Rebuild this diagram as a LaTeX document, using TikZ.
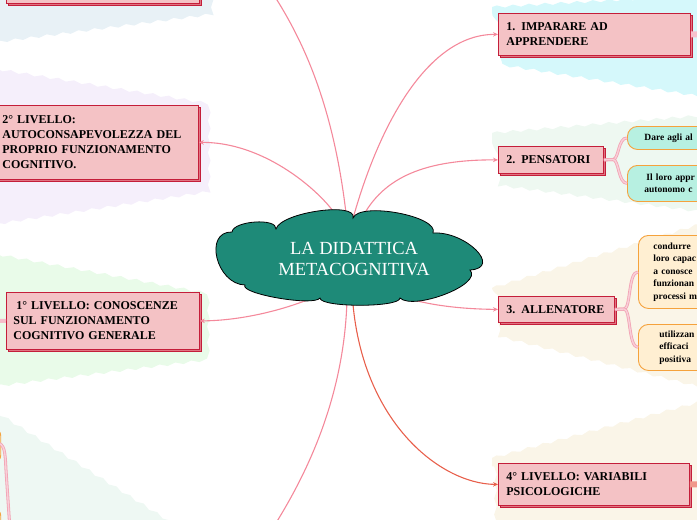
\documentclass[tikz,border=0pt]{standalone}
\usepackage{fontspec}
\setmainfont{Liberation Serif}
\usetikzlibrary{shadows,decorations.pathmorphing,arrows.meta}
\definecolor{boxfill}{HTML}{F4C2C5}
\definecolor{boxline}{HTML}{C41E3A}
\definecolor{shadowfill}{HTML}{E07482}
\definecolor{teal1}{HTML}{1E8A78}
\definecolor{linepink}{HTML}{F4899B}
\definecolor{linered}{HTML}{E8604C}
\definecolor{brpink}{HTML}{F2A3B4}
\definecolor{brlight}{HTML}{F9CFD8}
\definecolor{orangeb}{HTML}{F5A23C}
\definecolor{mintfill}{HTML}{B7F0E1}
\definecolor{beigefill}{HTML}{FFEFD2}
\definecolor{bandA}{HTML}{E8F1F6}
\definecolor{bandB}{HTML}{F5EFFB}
\definecolor{bandC}{HTML}{E9FBE9}
\definecolor{bandD}{HTML}{EEF8F3}
\definecolor{bandE}{HTML}{D5F8FB}
\definecolor{bandF}{HTML}{EEF8F1}
\definecolor{bandG}{HTML}{FAF5E8}
\begin{document}
\begin{tikzpicture}[x=1pt,y=-1pt,
  wave/.style={decorate,decoration={snake,amplitude=1.3pt,segment length=16pt}},
  mbox/.style={rectangle,fill=boxfill,draw=boxline,line width=0.8pt,
    copy shadow={shadow xshift=2pt,shadow yshift=-2pt,fill=shadowfill,draw=boxline,line width=0.6pt},
    font=\bfseries\fontsize{12}{15}\selectfont,align=left,inner ysep=0pt,anchor=north west},
  child/.style={rectangle,rounded corners=10pt,draw=orangeb,line width=0.9pt,
    font=\bfseries\fontsize{9.5}{12.5}\selectfont,align=left,anchor=north west,inner ysep=0pt},
  lineP/.style={draw=linepink,line width=1.1pt,-{Stealth[length=5pt,width=4.5pt]}},
  line4/.style={draw=linered,line width=1.1pt,-{Stealth[length=5pt,width=4.5pt]}},
  branch/.style={draw=brpink,double=brlight,double distance=1.4pt,line width=0.8pt},
  stub/.style={line width=6pt}]
\useasboundingbox (0,0) rectangle (697,520);
\clip (0,0) rectangle (697,520);
% background bands
\fill[bandA,wave] (-10,-10) -- (206,-10) -- (206,12) -- (-10,40) -- cycle;
\fill[bandB,wave] (-10,68) -- (206,103) -- (206,187) -- (-10,220) -- cycle;
\fill[bandC,wave] (-10,253) -- (206,293) -- (206,358) -- (-10,385) -- cycle;
\fill[bandD,wave] (-10,408) -- (180,528) -- (-10,528) -- cycle;
\fill[bandE,wave] (492,7) -- (707,-5) -- (707,97) -- (492,63) -- cycle;
\fill[bandF,wave] (492,133) -- (707,115) -- (707,210) -- (492,182) -- cycle;
\fill[bandG,wave] (492,288) -- (707,222) -- (707,388) -- (492,334) -- cycle;
\fill[bandG,wave] (492,458) -- (707,400) -- (707,530) -- (492,530) -- cycle;
% boxes
\node[mbox,minimum width=193pt,minimum height=45pt,text width=177pt,inner xsep=8pt] (tl) at (6,-42) {};
\node[mbox,minimum width=204pt,minimum height=74pt,text width=188pt,inner xsep=8pt] (lv2) at (-6,105)
  {2° LIVELLO:\\AUTOCONSAPEVOLEZZA DEL\\PROPRIO FUNZIONAMENTO\\COGNITIVO.};
\node[mbox,minimum width=193pt,minimum height=57pt,text width=179pt,inner xsep=7pt] (lv1) at (6,292)
  {\hspace*{3pt}1° LIVELLO: CONOSCENZE\\SUL FUNZIONAMENTO\\COGNITIVO GENERALE};
\node[mbox,minimum width=192pt,minimum height=42pt,text width=176pt,inner xsep=8pt] (imp) at (498,13)
  {1. IMPARARE AD\\APPRENDERE};
\node[mbox,minimum width=105pt,minimum height=27pt,text width=89pt,inner xsep=8pt] (pens) at (498,146)
  {2. PENSATORI};
\node[mbox,minimum width=116pt,minimum height=26pt,text width=100pt,inner xsep=8pt] (all) at (498,296)
  {3. ALLENATORE};
\node[mbox,minimum width=191pt,minimum height=42pt,text width=175pt,inner xsep=8pt] (lv4) at (498,463)
  {4° LIVELLO: VARIABILI\\PSICOLOGICHE};
% children
\node[child,fill=mintfill,minimum width=130pt,minimum height=23pt,text width=96pt,inner xsep=17pt] (d1) at (627,126)
  {Dare agli al};
\node[child,fill=mintfill,minimum width=130pt,minimum height=36pt,text width=96pt,inner xsep=17pt] (d2) at (627,165)
  {\hspace*{2pt}Il loro appr\\autonomo c};
\node[child,fill=beigefill,minimum width=130pt,minimum height=73pt,text width=100pt,inner xsep=14pt] (a1) at (638,235)
  {condurre\\loro capac\\a conosce\\funzionan\\processi m};
\node[child,fill=beigefill,minimum width=130pt,minimum height=46pt,text width=88pt,inner xsep=21pt] (a2) at (638,324)
  {utilizzan\\efficaci\\positiva};
% branch connectors
\draw[branch] (pens.east) -- (613,159.5) .. controls (619,159.5) and (618,137.5) .. (d1.west);
\draw[branch] (pens.east) -- (613,159.5) .. controls (619,159.5) and (618,183) .. (d2.west);
\draw[branch] (all.east) -- (624,309) .. controls (631,309) and (628,271.5) .. (a1.west);
\draw[branch] (all.east) -- (624,309) .. controls (631,309) and (628,347) .. (a2.west);
% stubs
\coordinate (impR) at (712,34);
\coordinate (lv4R) at (712,484);
\coordinate (lv1L) at (-12,320.5);
\draw[stub,draw=brlight!70!brpink] (imp.east) -- (impR);
\draw[stub,draw=linered!65!white] (lv4.east) -- (lv4R);
\draw[line width=4pt,draw=brlight!60!brpink] (lv1.west) -- (lv1L);
% bottom-left partial elements
\coordinate (oa) at (-60,428);
\coordinate (ob) at (0.8,463);
\coordinate (oc) at (-60,508);
\coordinate (od) at (0.8,570);
\draw[orangeb,line width=0.9pt,rounded corners=8pt] (oa) rectangle (ob);
\draw[orangeb,line width=0.9pt,rounded corners=8pt] (oc) rectangle (od);
\coordinate (bla) at (-4,443);
\coordinate (blb) at (10,530);
\draw[branch] (bla) .. controls (5,443) and (5,452) .. (6,470) -- (blb);
% connectors from centre
\coordinate (cc) at (347.5,258);
\coordinate (blend) at (265,540);
\draw[lineP] (cc) -- (352,222) .. controls (380,120) and (430,34) .. (imp.west);
\draw[lineP] (cc) -- (360,222) .. controls (380,180) and (420,159.5) .. (pens.west);
\draw[lineP] (cc) -- (390,292) .. controls (420,305) and (460,309) .. (all.west);
\draw[line4] (cc) -- (352,290) .. controls (358,420) and (440,484) .. (lv4.west);
\draw[lineP] (cc) -- (340,222) .. controls (330,200) and (270,142) .. (lv2.east);
\draw[lineP] (cc) -- (347,222) .. controls (335,110) and (305,45) .. (277,0) .. controls (265,-18) and (235,-19.5) .. (tl.east);
\draw[lineP] (cc) -- (325,292) .. controls (300,305) and (250,320.5) .. (lv1.east);
\draw[lineP,-] (cc) -- (347,300) .. controls (344,400) and (305,480) .. (blend);
% central cloud
\draw[fill=teal1,draw=black,line width=0.8pt]
  (232,232) .. controls (233.3,220.7) and (277.3,217.7) .. (276,229)
  .. controls (280.7,212.3) and (357.7,201.3) .. (353,218)
  .. controls (359.7,201.3) and (439.7,216.3) .. (433,233)
  .. controls (465.7,231) and (502.7,268) .. (470,270)
  .. controls (483.3,284.7) and (413.3,310.7) .. (400,298)
  .. controls (400,307.7) and (320,307.7) .. (320,298)
  .. controls (314,306.7) and (239,293.7) .. (245,285)
  .. controls (216.3,284.3) and (203.3,231.3) .. (232,232) -- cycle;
\node[font=\fontsize{18.5}{21}\selectfont,text=white,align=center] (ctitle) at (354,259) {LA DIDATTICA\\METACOGNITIVA};
\end{tikzpicture}
\end{document}
